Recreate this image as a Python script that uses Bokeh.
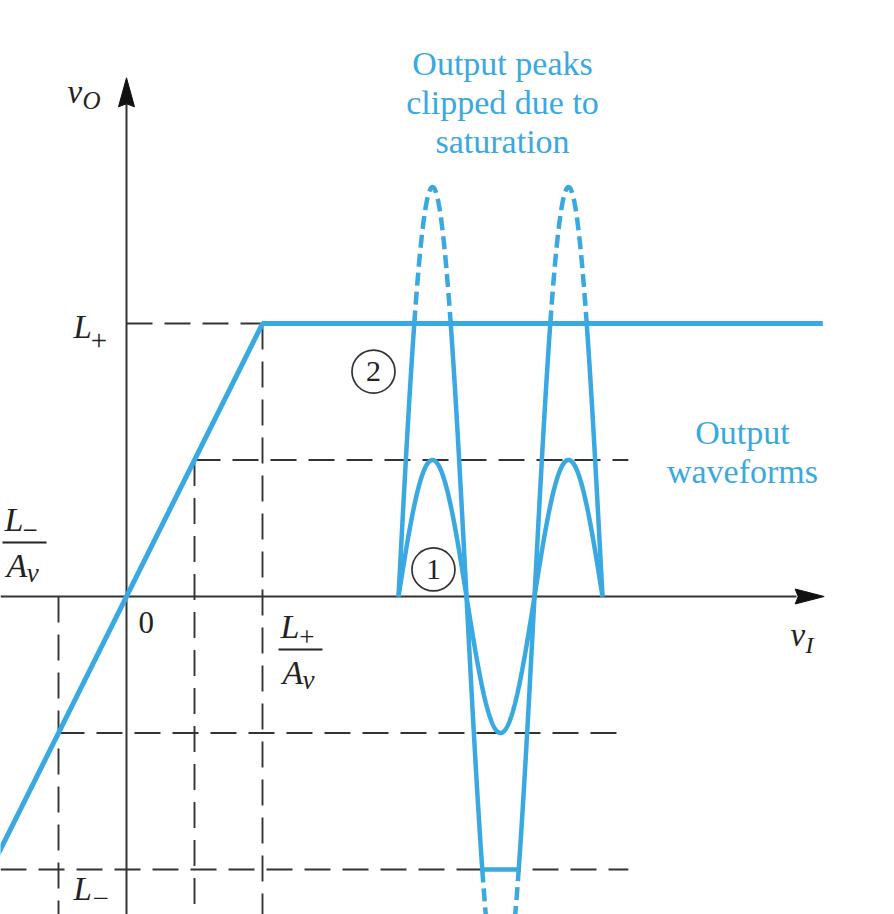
import numpy as np
from bokeh.plotting import figure
from bokeh.models import Range1d
from bokeh.core.properties import value
from bokeh.embed import file_html
from bokeh.resources import INLINE

# ---------------- values (vO in units of L+, vI in units of L+/Av) ----------------
L_plus = 1.0
L_minus = -1.0
transfer_x = [-2.0, -1.0, 1.0, 5.12]
transfer_y = [-1.0, -1.0, 1.0, 1.0]
input_small = 0.5          # peak input of waveform 1 (x L+/Av)
input_large = 1.5          # peak input of waveform 2 (x L+/Av)
gain = 1.0                 # Av in these units
wave_start = 2.0
wave_period = 1.0
wave_cycles = 1.5
guide_end = 3.69
axis_x_end = 5.13
axis_y_end = 1.90

# ---------------- canvas ----------------
W, H = 894, 914
X0, X1 = -126 / 136, (894 - 126) / 136
Y0, Y1 = (596 - 914) / 273, 596 / 273
sx = W / (X1 - X0)
sy = H / (Y1 - Y0)

BLUE = "#3AA8E1"
DARK = "#333333"
SERIF = value("Liberation Serif")

p = figure(width=W, height=H, x_range=Range1d(X0, X1), y_range=Range1d(Y0, Y1),
           output_backend="svg", toolbar_location=None, min_border=0)
p.axis.visible = False
p.grid.visible = False
p.outline_line_color = None
p.background_fill_color = "white"
p.border_fill_color = "white"

# ---------------- dashed guides ----------------
gx = [[0, 1.0], [1.0, 1.0], [0.5, guide_end], [0.5, 0.5], [-0.5, guide_end], [-0.5, -0.5], [X0, guide_end]]
gy = [[L_plus, L_plus], [L_plus, Y0], [0.5, 0.5], [0.5, Y0], [-0.5, -0.5], [0, Y0], [L_minus, L_minus]]
p.multi_line(gx, gy, line_color="#333333", line_width=1.9, line_dash="26 12")

# ---------------- axes with arrow heads ----------------
alen_y = 29 / sy
ahw_x = 8 / sx
alen_x = 29 / sx
ahw_y = 7.5 / sy
p.line([0, 0], [Y0, axis_y_end - alen_y + 0.01], line_color=DARK, line_width=2)
p.line([X0, axis_x_end - alen_x + 0.01], [0, 0], line_color=DARK, line_width=2)
p.patch([0, ahw_x, 0, -ahw_x], [axis_y_end, axis_y_end - alen_y, axis_y_end - alen_y + 3 / sy, axis_y_end - alen_y],
        fill_color="#111111", line_color="#111111", line_width=1)
p.patch([axis_x_end, axis_x_end - alen_x, axis_x_end - alen_x + 3 / sx, axis_x_end - alen_x],
        [0, ahw_y, 0, -ahw_y], fill_color="#111111", line_color="#111111", line_width=1)

# ---------------- transfer characteristic ----------------
p.line(transfer_x, transfer_y, line_color=BLUE, line_width=5)

# ---------------- output waveforms ----------------
phase = np.linspace(0, 2 * np.pi * wave_cycles, 3001)
wx = wave_start + wave_period * phase / (2 * np.pi)
small = gain * input_small * np.sin(phase)
large = np.clip(gain * input_large * np.sin(phase), L_minus, L_plus)
p.line(wx, small, line_color=BLUE, line_width=4.5)
p.line(wx, large, line_color=BLUE, line_width=4.5)

# unclipped (dashed) parts of waveform 2
a0 = np.arcsin(L_plus / (gain * input_large))
dxs, dys = [], []
for k in range(int(round(2 * wave_cycles))):
    ph = np.linspace(k * np.pi + a0, (k + 1) * np.pi - a0, 200)
    dxs.append(list(wave_start + wave_period * ph / (2 * np.pi)))
    dys.append(list(gain * input_large * np.sin(ph)))
p.multi_line(dxs, dys, line_color=BLUE, line_width=4.5, line_dash="13 6")

# ---------------- circled numbers ----------------
cx = [1.816, 2.257]
cy = [0.824, 0.099]
p.scatter(cx, cy, marker="circle", size=43, fill_alpha=0, line_color=DARK, line_width=1.7)
p.text(cx, cy, text=["2", "1"], text_font=SERIF, text_font_size="30px", text_color="#222222",
       text_align="center", text_baseline="middle")

# ---------------- labels ----------------
def t(x, y, s, size, style="italic", color="#222222", align="left"):
    yy = y + 0.32 * size / sy   # compensate the renderer's baseline placement
    p.text([x], [yy], text=[s], text_font=SERIF, text_font_size=f"{size}px", text_font_style=style,
           text_color=color, text_align=align, text_baseline="alphabetic")

# v_O
t(-0.434, 1.810, "v", 33)
t(-0.324, 1.788, "O", 25)
# L+
t(-0.390, 0.949, "L", 33)
t(-0.262, 0.905, "+", 29, style="normal")
# 0
t(0.088, -0.132, "0", 31, style="normal")
# L+/Av fraction
t(1.132, -0.150, "L", 34)
t(1.270, -0.180, "+", 27, style="normal")
p.line([1.118, 1.441], [-0.194, -0.194], line_color="#222222", line_width=2)
t(1.147, -0.319, "A", 34)
t(1.295, -0.336, "v", 27)
# left fraction (L-/Av)
t(-0.897, 0.242, "L", 34)
t(-0.765, 0.212, "\u2212", 27, style="normal")
p.line([-0.912, -0.588], [0.198, 0.198], line_color="#222222", line_width=2)
t(-0.882, 0.073, "A", 34)
t(-0.734, 0.056, "v", 27)
# v_I
t(4.882, -0.180, "v", 33)
t(4.993, -0.205, "I", 24)
# L-
t(-0.390, -1.110, "L", 33)
t(-0.250, -1.140, "\u2212", 29, style="normal")

# blue annotations
for yy, s in zip([1.912, 1.769, 1.626], ["Output peaks", "clipped due to", "saturation"]):
    t(2.765, yy, s, 34, style="normal", color=BLUE, align="center")
for yy, s in zip([0.560, 0.418], ["Output", "waveforms"]):
    t(4.529, yy, s, 34, style="normal", color=BLUE, align="center")

open("out.html", "w").write(file_html(p, INLINE))
